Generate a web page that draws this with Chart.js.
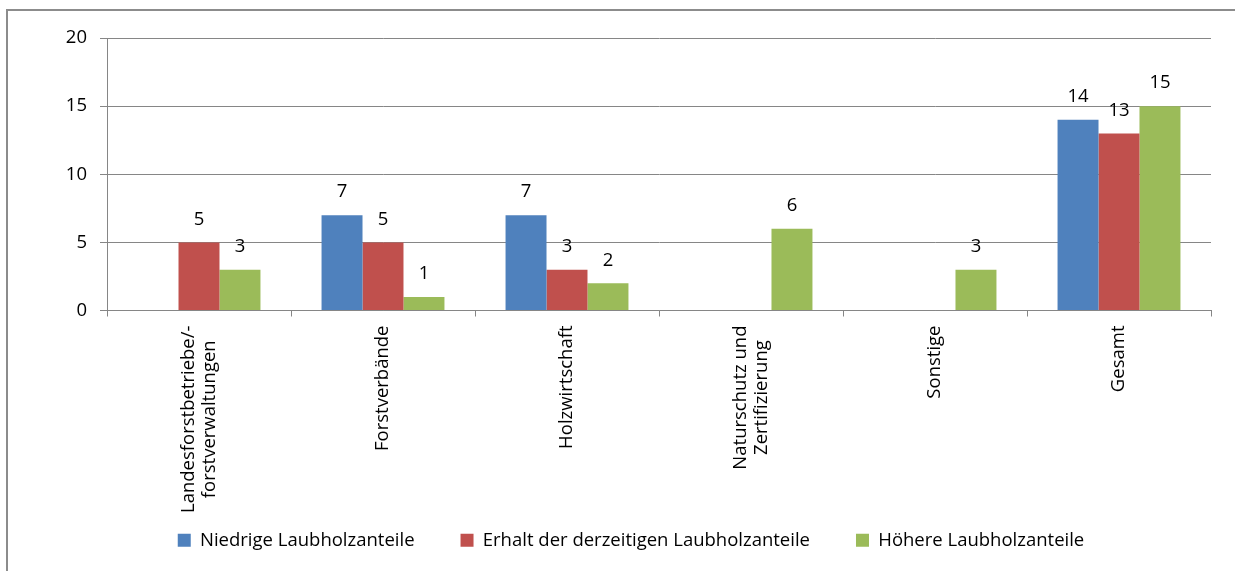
<!DOCTYPE html>
<html>
<head>
<meta charset="utf-8">
<script src="https://cdn.jsdelivr.net/npm/chart.js@4.4.0/dist/chart.umd.min.js"></script>
<style>
  html, body { margin: 0; padding: 0; background: #fff; }
</style>
</head>
<body>
<canvas id="chart" width="1235" height="571"></canvas>
<script>
// Kategorien (mehrzeilige Beschriftungen als Arrays)
const categories = [
    ['Landesforstbetriebe/-', 'forstverwaltungen'],
    'Forstverbände',
    'Holzwirtschaft',
    ['Naturschutz und', 'Zertifizierung'],
    'Sonstige',
    'Gesamt'
];
const seriesNames = [
    'Niedrige Laubholzanteile',
    'Erhalt der derzeitigen Laubholzanteile',
    'Höhere Laubholzanteile'
];
const niedrige = [0, 7, 7, 0, 0, 14];
const erhalt = [5, 5, 3, 0, 0, 13];
const hoehere = [3, 1, 2, 6, 3, 15];
const yTicks = [0, 5, 10, 15, 20];

const FONT = '"Open Sans"';
const FONT_SIZE = 18.5;
const GRID = '#868686';

// Rahmen um das gesamte Diagramm
const frame = {
    id: 'frame',
    beforeDraw(chart) {
        const ctx = chart.ctx;
        ctx.save();
        ctx.fillStyle = '#fff';
        ctx.fillRect(0, 0, chart.width, chart.height);
        ctx.strokeStyle = '#8c8c8c';
        ctx.lineWidth = 2;
        ctx.strokeRect(7, 10, chart.width + 20, chart.height + 20);
        ctx.restore();
    }
};

// Zahlen über den Balken (0 wird nicht beschriftet)
const barLabels = {
    id: 'barLabels',
    afterDatasetsDraw(chart) {
        const ctx = chart.ctx;
        ctx.save();
        ctx.font = FONT_SIZE + 'px ' + FONT;
        ctx.fillStyle = '#000';
        ctx.textAlign = 'center';
        ctx.textBaseline = 'middle';
        chart.data.datasets.forEach((ds, di) => {
            chart.getDatasetMeta(di).data.forEach((bar, i) => {
                if (ds.data[i] === 0) return;
                ctx.fillText(String(ds.data[i]), bar.x, bar.y - 23);
            });
        });
        ctx.restore();
    }
};

// senkrechte Kategorienbeschriftung, Zeilen zentriert wie in Excel
const xLabels = {
    id: 'xLabels',
    afterDraw(chart) {
        const ctx = chart.ctx;
        const xs = chart.scales.x;
        const top = chart.chartArea.bottom + 15;
        const lineH = 21;
        ctx.save();
        ctx.font = FONT_SIZE + 'px ' + FONT;
        ctx.fillStyle = '#000';
        ctx.textAlign = 'center';
        ctx.textBaseline = 'middle';
        categories.forEach((cat, i) => {
            const lines = Array.isArray(cat) ? cat : [cat];
            const maxW = Math.max(...lines.map(l => ctx.measureText(l).width));
            const cx = xs.getPixelForValue(i);
            lines.forEach((line, li) => {
                const x = cx + (li - (lines.length - 1) / 2) * lineH;
                ctx.save();
                ctx.translate(x, top + maxW / 2);
                ctx.rotate(-Math.PI / 2);
                ctx.fillText(line, 0, 0);
                ctx.restore();
            });
        });
        ctx.restore();
    }
};

const ctx = document.getElementById('chart').getContext('2d');
new Chart(ctx, {
    type: 'bar',
    data: {
        labels: categories,
        datasets: [
            { label: seriesNames[0], data: niedrige, backgroundColor: '#4F81BD' },
            { label: seriesNames[1], data: erhalt, backgroundColor: '#C0504D' },
            { label: seriesNames[2], data: hoehere, backgroundColor: '#9BBB59' }
        ]
    },
    options: {
        responsive: false,
        animation: false,
        devicePixelRatio: 1,
        layout: { padding: { left: 51, right: 24, top: 38, bottom: 11.5 } },
        datasets: {
            bar: { categoryPercentage: 0.668, barPercentage: 1 }
        },
        plugins: {
            legend: {
                position: 'bottom',
                labels: {
                    font: { family: 'Open Sans', size: FONT_SIZE },
                    color: '#000',
                    boxWidth: 13,
                    boxHeight: 13,
                    padding: 46
                }
            },
            tooltip: { enabled: false }
        },
        scales: {
            x: {
                grid: { drawOnChartArea: false, drawTicks: true, tickLength: 6, color: GRID },
                border: { color: GRID },
                ticks: { display: false },
                afterFit(s) { s.height = 174.5; }
            },
            y: {
                min: yTicks[0],
                max: yTicks[yTicks.length - 1],
                afterBuildTicks(s) { s.ticks = yTicks.map(v => ({ value: v })); },
                ticks: {
                    font: { family: 'Open Sans', size: FONT_SIZE },
                    color: '#000',
                    padding: 13
                },
                grid: { color: GRID, tickLength: 7 },
                border: { color: GRID },
                afterFit(s) { s.width = 56; }
            }
        }
    },
    plugins: [frame, barLabels, xLabels]
});
</script>
</body>
</html>
